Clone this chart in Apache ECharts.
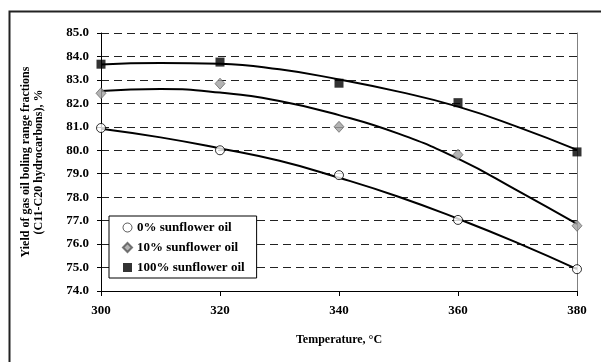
<!DOCTYPE html>
<html><head><meta charset="utf-8">
<script src="https://cdn.jsdelivr.net/npm/echarts@6/dist/echarts.min.js"></script>
<style>html,body{margin:0;padding:0;background:#fff}#c{width:601px;height:362px}</style>
</head><body><div id="c"></div>
<script>
const temperatures = [300, 320, 340, 360, 380];
const yield0 = [80.95, 80.0, 78.94, 77.03, 74.93];
const yield10 = [82.43, 82.84, 81.0, 79.81, 76.78];
const yield100 = [83.67, 83.76, 82.86, 82.03, 79.93];
const trendTemps = [300, 310, 320, 330, 340, 350, 360, 370, 380];
const trend0 = [80.92, 80.55, 80.08, 79.55, 78.83, 78.02, 77.08, 76.05, 74.93];
const trend10 = [82.53, 82.61, 82.46, 82.1, 81.5, 80.71, 79.64, 78.28, 76.86];
const trend100 = [83.66, 83.72, 83.69, 83.45, 83.02, 82.5, 81.86, 81.0, 80.02];
const seriesNames = ['0% sunflower oil', '10% sunflower oil', '100% sunflower oil'];
const xTicks = [300, 320, 340, 360, 380];
const yTicks = [74, 75, 76, 77, 78, 79, 80, 81, 82, 83, 84, 85];

const font = '"Liberation Serif", "Times New Roman", serif';
const pair = (xs, ys) => xs.map((x, i) => [x, ys[i]]);
const chart = echarts.init(document.getElementById('c'), null, {renderer: 'canvas'});
const trend = (d) => ({type: 'line', data: pair(trendTemps, d), smooth: true, showSymbol: false, silent: true,
  lineStyle: {color: '#000', width: 2}, z: 2});
chart.setOption({
  animation: false,
  backgroundColor: '#fff',
  textStyle: {fontFamily: font},
  graphic: [{type: 'rect', left: 7, top: 9, shape: {width: 640, height: 420},
    style: {fill: 'none', stroke: '#222', lineWidth: 2}, z: 100}],
  grid: {left: 101, right: 24, top: 33, bottom: 71},
  legend: {
    data: [
      {name: seriesNames[0], itemStyle: {borderWidth: 0.8}},
      {name: seriesNames[1]},
      {name: seriesNames[2]}
    ],
    orient: 'vertical', left: 109, top: 216,
    backgroundColor: '#fff', borderColor: '#000', borderWidth: 1,
    padding: [5, 12, 4, 13], itemGap: 7, itemWidth: 9, itemHeight: 9,
    textStyle: {fontFamily: font, fontWeight: 'bold', fontSize: 13, color: '#000'}
  },
  xAxis: {
    type: 'value', min: xTicks[0], max: xTicks[xTicks.length - 1], interval: 20,
    name: 'Temperature, °C', nameLocation: 'middle', nameGap: 43,
    nameTextStyle: {fontFamily: font, fontWeight: 'bold', fontSize: 12, color: '#000'},
    axisLine: {show: true, lineStyle: {color: '#000', width: 1}},
    axisTick: {show: true, inside: false, length: 5, lineStyle: {color: '#000'}},
    axisLabel: {fontFamily: font, fontWeight: 'bold', fontSize: 13, color: '#000', margin: 13},
    splitLine: {show: false}
  },
  yAxis: [{
    type: 'value', min: yTicks[0], max: yTicks[yTicks.length - 1], interval: 1,
    name: 'Yield of gas oil boling range fractions\n(C11-C20 hydrocarbons), %',
    nameLocation: 'middle', nameGap: 56, nameRotate: 90,
    nameTextStyle: {fontFamily: font, fontWeight: 'bold', fontSize: 12, color: '#000', lineHeight: 13},
    axisLine: {show: true, onZero: false, lineStyle: {color: '#000', width: 1}},
    axisTick: {show: true, inside: false, length: 4, lineStyle: {color: '#000'}},
    axisLabel: {fontFamily: font, fontWeight: 'bold', fontSize: 13, color: '#000', margin: 12,
      formatter: v => v.toFixed(1)},
    splitLine: {show: true, lineStyle: {color: '#222', width: 1, type: [8, 5]}}
  }, {
    type: 'value', position: 'right', min: yTicks[0], max: yTicks[yTicks.length - 1], interval: 1,
    axisLine: {show: true, lineStyle: {color: '#808080', width: 1}},
    axisTick: {show: false}, axisLabel: {show: false}, splitLine: {show: false}
  }],
  series: [
    trend(trend0), trend(trend10), trend(trend100),
    {name: seriesNames[0], type: 'scatter', data: pair(temperatures, yield0), symbol: 'circle', symbolSize: 9,
      itemStyle: {color: '#fff', borderColor: '#000', borderWidth: 1}, z: 5},
    {name: seriesNames[1], type: 'scatter', data: pair(temperatures, yield10), symbol: 'diamond', symbolSize: [10, 11],
      itemStyle: {color: '#a0a0a0', borderColor: '#555', borderWidth: 0.8}, z: 5},
    {name: seriesNames[2], type: 'scatter', data: pair(temperatures, yield100), symbol: 'rect', symbolSize: 9,
      itemStyle: {color: '#000', borderColor: '#000', borderWidth: 0}, z: 5}
  ]
});
</script></body></html>
